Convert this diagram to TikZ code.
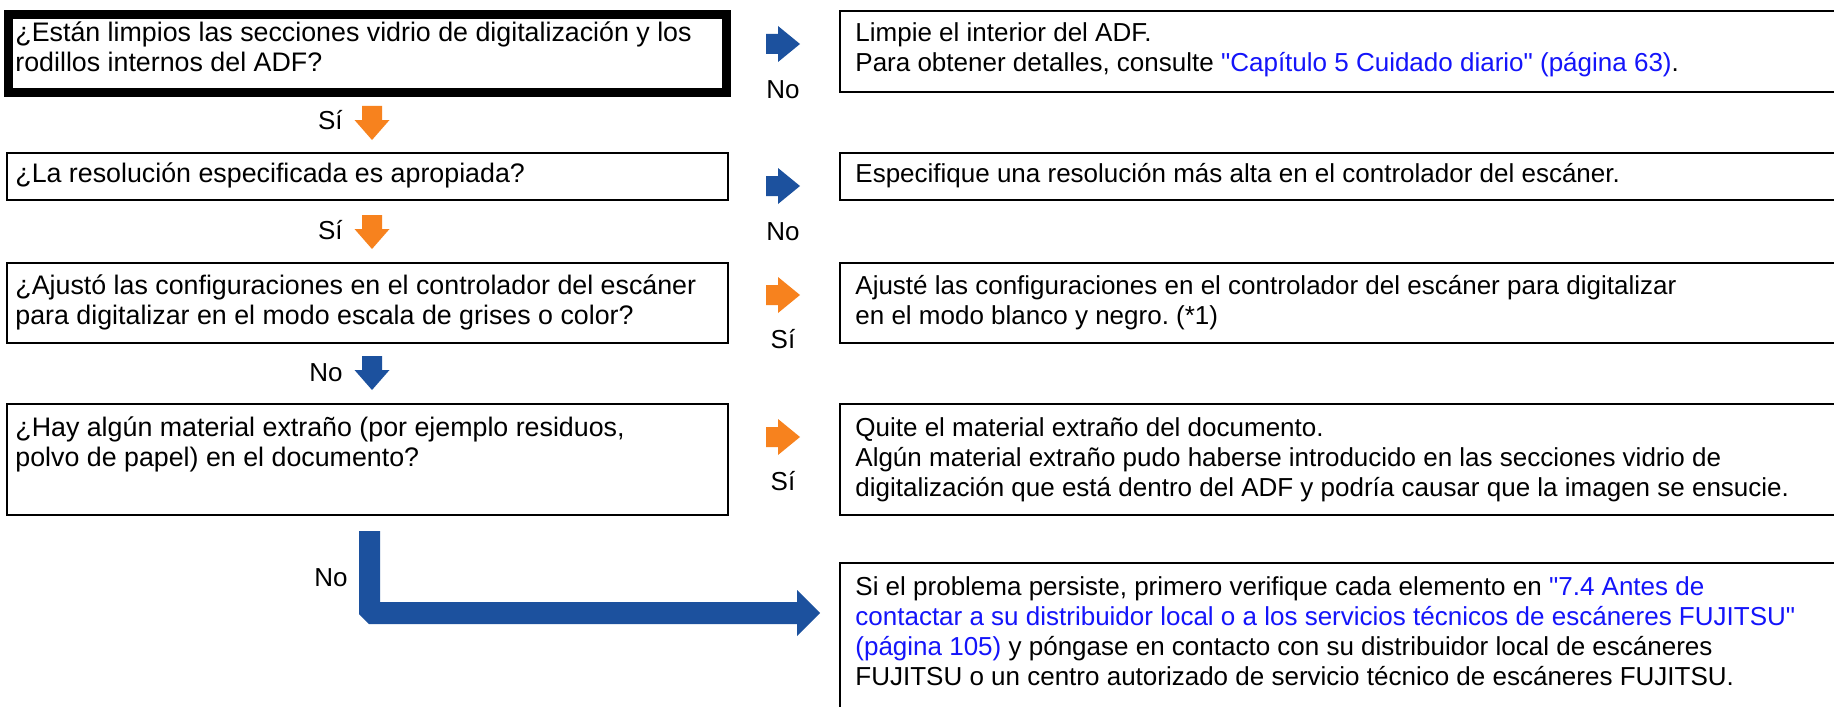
\documentclass[tikz,border=0pt]{standalone}
\usepackage{fontspec}
\setmainfont{Liberation Sans}[Ligatures=TeXOff]
\definecolor{arrblue}{RGB}{28,81,158}
\definecolor{arrorange}{RGB}{247,130,30}
\definecolor{linkblue}{RGB}{20,20,250}
\newcommand\lnk[1]{\textcolor{linkblue}{#1}}
\newcommand\fst{\rule{0pt}{12.5pt}}
\frenchspacing
\begin{document}
\begin{tikzpicture}[x=0.5pt,y=-0.5pt,
  qbox/.style={draw=black, line width=1.25pt, inner sep=0pt, outer sep=0pt, anchor=north west},
  txt/.style={anchor=north west, inner sep=0pt, align=left, font=\fontsize{13}{15}\selectfont},
  ltxt/.style={txt, font=\fontsize{13.4}{15}\selectfont},
  lbl/.style={inner sep=0pt, font=\fontsize{13}{15}\selectfont},
  rarr/.pic={\fill (0,-10) -- (12,-10) -- (12,-18) -- (34,0) -- (12,18) -- (12,10) -- (0,10) -- cycle;},
  darr/.pic={\fill (-10,0) -- (10,0) -- (10,14) -- (17.5,14) -- (0,34) -- (-17.5,14) -- (-10,14) -- cycle;}
]
\useasboundingbox (0,0) rectangle (1834,706);
\clip (0,0) rectangle (1834,706);
\fill[white] (0,0) rectangle (1834,706);

% left boxes
\node[qbox, line width=4.5pt, minimum width=359pt, minimum height=39pt] (bL1) at (8.5,14.5) {};
\node[qbox, minimum width=360.5pt, minimum height=23.5pt] (bL2) at (7,153) {};
\node[qbox, minimum width=360.5pt, minimum height=40pt] (bL3) at (7,263) {};
\node[qbox, minimum width=360.5pt, minimum height=55.5pt] (bL4) at (7,404) {};
% right boxes
\node[qbox, minimum width=505pt, minimum height=40.5pt] (bR1) at (840,11) {};
\node[qbox, minimum width=505pt, minimum height=23.5pt] (bR2) at (840,153) {};
\node[qbox, minimum width=505pt, minimum height=40pt] (bR3) at (840,263) {};
\node[qbox, minimum width=505pt, minimum height=55.5pt] (bR4) at (840,404) {};
\node[qbox, minimum width=505pt, minimum height=78.5pt] (bR5) at (840,563) {};

% left texts
\node[ltxt] (tL1) at (15,16) {\fst¿Están limpios las secciones vidrio de digitalización y los\\rodillos internos del ADF?};
\node[ltxt] (tL2) at (15,157) {\fst¿La resolución especificada es apropiada?};
\node[ltxt] (tL3) at (15,269) {\fst¿Ajustó las configuraciones en el controlador del escáner\\para digitalizar en el modo escala de grises o color?};
\node[ltxt] (tL4) at (15,411) {\fst¿Hay algún material extraño (por ejemplo residuos,\\polvo de papel) en el documento?};
% right texts
\node[txt] (tR1) at (855,16) {\fst Limpie el interior del ADF.\\Para obtener detalles, consulte \lnk{"Capítulo 5 Cuidado diario" (página 63)}.};
\node[txt] (tR2) at (855,157) {\fst Especifique una resolución más alta en el controlador del escáner.};
\node[txt] (tR3) at (855,269) {\fst Ajusté las configuraciones en el controlador del escáner para digitalizar\\en el modo blanco y negro. (*1)};
\node[txt] (tR4) at (855,411) {\fst Quite el material extraño del documento.\\Algún material extraño pudo haberse introducido en las secciones vidrio de\\digitalización que está dentro del ADF y podría causar que la imagen se ensucie.};
\node[txt] (tR5) at (855,570) {\fst Si el problema persiste, primero verifique cada elemento en \lnk{"7.4 Antes de}\\\lnk{contactar a su distribuidor local o a los servicios técnicos de escáneres FUJITSU"}\\\lnk{(página 105)} y póngase en contacto con su distribuidor local de escáneres\\FUJITSU o un centro autorizado de servicio técnico de escáneres FUJITSU.};

% right arrows
\pic[color=arrblue] at (766,44) {rarr};
\pic[color=arrblue] at (766,186) {rarr};
\pic[color=arrorange] at (766,295) {rarr};
\pic[color=arrorange] at (766,437) {rarr};
\node[lbl, anchor=base] (lr1) at (783,98) {No};
\node[lbl, anchor=base] (lr2) at (783,240) {No};
\node[lbl, anchor=base] (lr3) at (783,348) {Sí};
\node[lbl, anchor=base] (lr4) at (783,490) {Sí};

% down arrows
\pic[color=arrorange] at (372,106) {darr};
\pic[color=arrorange] at (372,215) {darr};
\pic[color=arrblue] at (372,356) {darr};
\node[lbl, anchor=base east] (ld1) at (343,129) {Sí};
\node[lbl, anchor=base east] (ld2) at (343,239) {Sí};
\node[lbl, anchor=base east] (ld3) at (343,381) {No};

% L arrow
\fill[arrblue] (359,531) -- (380,531) -- (380,602) -- (797,602) -- (797,590) -- (820,613) -- (797,636) -- (797,624) -- (369,624) -- (359,614) -- cycle;
\node[lbl, anchor=base east] (ld4) at (348,586) {No};
\end{tikzpicture}
\end{document}
